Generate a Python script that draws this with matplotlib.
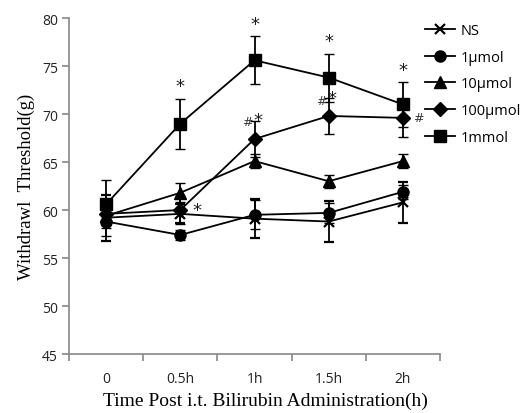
import matplotlib
matplotlib.use("Agg")
import matplotlib.pyplot as plt
from matplotlib.lines import Line2D
import numpy as np

categories = ["0", "0.5h", "1h", "1.5h", "2h"]
series_names = ["NS", "1\u03bcmol", "10\u03bcmol", "100\u03bcmol", "1mmol"]
ns_vals = [59.2, 59.6, 59.1, 58.8, 60.8]
ns_err = [2.4, 1.0, 2.0, 2.1, 2.1]
umol1_vals = [58.8, 57.4, 59.5, 59.7, 61.9]
umol1_err = [1.5, 0.5, 1.5, 1.0, 0.7]
umol10_vals = [59.4, 61.8, 65.1, 63.0, 65.1]
umol10_err = [1.0, 1.0, 0.7, 0.7, 0.7]
umol100_vals = [59.6, 60.0, 67.4, 69.8, 69.6]
umol100_err = [1.0, 1.5, 1.9, 1.9, 2.0]
mmol1_vals = [60.6, 69.0, 75.6, 73.8, 71.0]
mmol1_err = [2.5, 2.6, 2.5, 2.5, 2.3]
y_ticks = [45, 50, 55, 60, 65, 70, 75, 80]

all_vals = [ns_vals, umol1_vals, umol10_vals, umol100_vals, mmol1_vals]
all_err = [ns_err, umol1_err, umol10_err, umol100_err, mmol1_err]
markers = ["x", "o", "^", "D", "s"]
msizes = [7, 8, 8, 7, 8]

fig = plt.figure(figsize=(5.27, 4.14), dpi=100)
ax = fig.add_axes([0.131, 0.1425, 0.704, 0.8115])
x = np.arange(len(categories))
handles = []
for vals, err, m, ms, name in zip(all_vals, all_err, markers, msizes, series_names):
    mew = 1.6 if m == "x" else 1
    ax.errorbar(x, vals, yerr=err, color="black", marker=m, markersize=ms,
                mew=mew, lw=1.3, elinewidth=1.3,
                capsize=3.5, capthick=1.3, label=name)
    handles.append(Line2D([], [], color="black", marker=m, markersize=ms, mew=mew, lw=1.3))

ax.set_xlim(-0.5, 4.5)
ax.set_ylim(45, 80)
ax.set_yticks(y_ticks)
ax.set_xticks(x)
ax.set_xticklabels(categories)
ax.set_xticks(np.arange(-0.5, 5.0, 1.0), minor=True)
ax.tick_params(axis="x", which="major", length=0, pad=12)
ax.tick_params(axis="x", which="minor", length=5, color="#888888", width=1.2)
ax.tick_params(axis="y", length=5, color="#888888", width=1.2, pad=3)
for lab in ax.get_xticklabels() + ax.get_yticklabels():
    lab.set_fontfamily("Open Sans")
    lab.set_fontsize(10)
    lab.set_color("#222222")
for s in ["top", "right"]:
    ax.spines[s].set_visible(False)
for s in ["left", "bottom"]:
    ax.spines[s].set_color("#888888")
    ax.spines[s].set_linewidth(1.2)

ax.set_ylabel("Withdrawl  Threshold(g)", fontfamily="Liberation Serif", fontsize=13.5, labelpad=5)
ax.set_xlabel("Time Post i.t. Bilirubin Administration(h)", fontfamily="Liberation Serif", fontsize=14)
ax.xaxis.set_label_coords(0.53, -0.113)

# significance annotations
star_kw = dict(ha="center", va="center", fontsize=13, color="#1a1a1a", fontfamily="DejaVu Sans")
hash_kw = dict(ha="center", va="center", fontsize=9, color="#3a3a3a", fontfamily="DejaVu Sans")
for i in [1, 2, 3, 4]:
    ax.text(x[i], mmol1_vals[i] + mmol1_err[i] + 1.3, "*", **star_kw)
ax.text(x[2] - 0.1, umol100_vals[2] + 1.8, "#", **hash_kw)
ax.text(x[2] + 0.05, umol100_vals[2] + 2.0, "*", **star_kw)
ax.text(x[3] - 0.1, umol100_vals[3] + 1.6, "#", **hash_kw)
ax.text(x[3] + 0.05, umol100_vals[3] + 1.9, "*", **star_kw)
ax.text(x[4] + 0.2, umol100_vals[4], "#", **hash_kw)
ax.text(x[1] + 0.22, umol100_vals[1] + 0.0, "*", **star_kw)

leg = fig.legend(handles=handles, labels=series_names, loc="upper left",
                 bbox_to_anchor=(0.785, 0.97), frameon=False,
                 prop={"family": "Open Sans", "size": 10.5}, handlelength=2.0,
                 handletextpad=0.4, labelspacing=0.8, borderpad=0.3)
fig.savefig("out.png", dpi=100)
